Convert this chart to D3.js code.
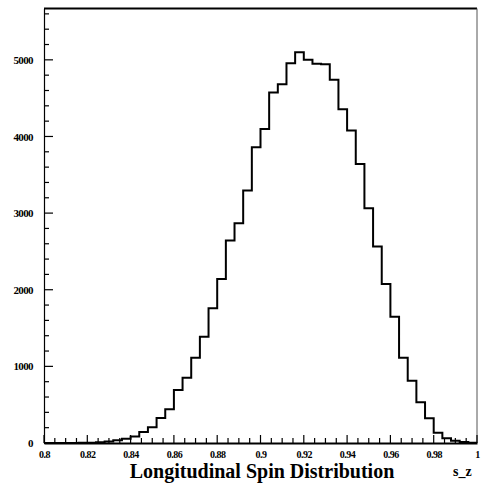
<!DOCTYPE html>
<html>
<head>
<meta charset="utf-8">
<script src="https://cdn.jsdelivr.net/npm/d3@7"></script>
<style>
  body { margin: 0; background: #fff; }
  svg { display: block; }
  text { font-family: "Liberation Serif", "DejaVu Serif", serif; font-weight: bold; fill: #000; }
</style>
</head>
<body>
<svg></svg>
<script>
// histogram bins: 50 bins of width 0.004 between 0.8 and 1.0
var binStart = 0.8;
var binWidth = 0.004;
var counts = [0, 0, 0, 1, 2, 4, 9, 20, 35, 55,
              85, 145, 205, 325, 440, 692, 852, 1112, 1388, 1758,
              2141, 2641, 2868, 3294, 3860, 4099, 4573, 4683, 4957, 5100,
              5000, 4948, 4944, 4739, 4356, 4077, 3642, 3064, 2563, 2076,
              1649, 1114, 813, 531, 322, 134, 61, 30, 13, 4];

// tick labels
var xTicks = [0.8, 0.82, 0.84, 0.86, 0.88, 0.9, 0.92, 0.94, 0.96, 0.98, 1];
var yTicks = [0, 1000, 2000, 3000, 4000, 5000];

var svgWidth = 481, svgHeight = 487;
// plot frame (note: "top" is a reserved window property, so prefix these)
var frameLeft = 44, frameRight = 477, frameTop = 8.5, frameBottom = 443;

var svg = d3.select('svg')
    .attr("width", svgWidth)
    .attr("height", svgHeight);

var xScale = d3.scaleLinear()
    .domain([0.8, 1.0])
    .range([frameLeft, frameRight]);

var yScale = d3.scaleLinear()
    .domain([0, 5670])
    .range([frameBottom, frameTop]);

// frame: top and right borders
svg.append("line")
    .attr("x1", frameLeft).attr("x2", frameRight)
    .attr("y1", frameTop).attr("y2", frameTop)
    .attr("stroke", "#000").attr("stroke-width", 2);
svg.append("line")
    .attr("x1", frameRight).attr("x2", frameRight)
    .attr("y1", frameTop).attr("y2", frameBottom)
    .attr("stroke", "#555").attr("stroke-width", 1);

// minor ticks, drawn inside the frame
var xMinor = d3.range(0, 41).map(function (i) { return 0.8 + i * 0.005; });
var yMinor = d3.range(0, 29).map(function (i) { return i * 200; });

svg.append("g").selectAll("line")
    .data(xMinor)
    .enter()
    .append("line")
    .attr("x1", function (d) { return xScale(d); })
    .attr("x2", function (d) { return xScale(d); })
    .attr("y1", frameBottom)
    .attr("y2", function (d, i) { return frameBottom - (i % 4 == 0 ? 8 : 5); })
    .attr("stroke", "#000").attr("stroke-width", 1.2);

svg.append("g").selectAll("line")
    .data(yMinor)
    .enter()
    .append("line")
    .attr("y1", function (d) { return yScale(d); })
    .attr("y2", function (d) { return yScale(d); })
    .attr("x1", frameLeft)
    .attr("x2", function (d, i) { return frameLeft + (i % 5 == 0 ? 9 : 5); })
    .attr("stroke", "#000").attr("stroke-width", 1.2);

// axes with labels only (ticks drawn above)
var xAxis = d3.axisBottom(xScale)
    .tickValues(xTicks)
    .tickSize(0)
    .tickPadding(8)
    .tickFormat(function (d) { return String(+d.toFixed(2)); });

var yAxis = d3.axisLeft(yScale)
    .tickValues(yTicks)
    .tickSize(0)
    .tickPadding(11)
    .tickFormat(d3.format("d"));

var gx = svg.append("g")
    .attr("transform", "translate(0," + frameBottom + ")")
    .call(xAxis);
gx.select(".domain").attr("stroke", "#000").attr("stroke-width", 2);
gx.selectAll("text")
    .style("font-size", "10px")
    .style("font-family", "'Liberation Serif', serif")
    .style("font-weight", "bold")
    .attr("letter-spacing", "-0.5");

var gy = svg.append("g")
    .attr("transform", "translate(" + frameLeft + ",0)")
    .call(yAxis);
gy.select(".domain").attr("stroke", "#000").attr("stroke-width", 1.2);
gy.selectAll("text")
    .style("font-size", "11px")
    .style("font-family", "'Liberation Serif', serif")
    .style("font-weight", "bold")
    .attr("letter-spacing", "-0.6");

// histogram outline as a step line
var points = [];
counts.forEach(function (c, i) {
    var x0 = binStart + i * binWidth;
    points.push([x0, c]);
    points.push([x0 + binWidth, c]);
});

var line = d3.line()
    .x(function (d) { return xScale(d[0]); })
    .y(function (d) { return yScale(d[1]); });

svg.append("path")
    .datum(points)
    .attr("d", line)
    .attr("fill", "none")
    .attr("stroke", "#000")
    .attr("stroke-width", 2);

// titles
svg.append("text")
    .attr("x", 262)
    .attr("y", 478)
    .attr("text-anchor", "middle")
    .style("font-size", "20px")
    .text("Longitudinal Spin Distribution");

svg.append("text")
    .attr("x", 453)
    .attr("y", 476)
    .style("font-size", "14px")
    .text("s_z");
</script>
</body>
</html>
